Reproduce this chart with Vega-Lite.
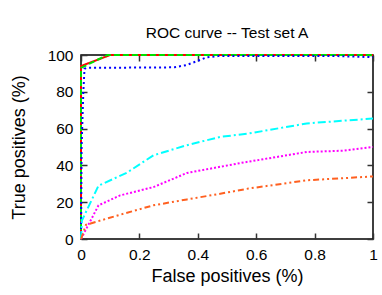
{
  "$schema": "https://vega.github.io/schema/vega-lite/v6.json",
  "autosize": "none",
  "width": 292,
  "height": 184,
  "padding": {"left": 81, "top": 55, "right": 9, "bottom": 56},
  "background": "white",
  "config": {
    "font": "Liberation Sans",
    "view": {"stroke": "black", "strokeWidth": 1.5},
    "axis": {"grid": false, "domain": false, "labelFlush": false, "tickColor": "#333", "tickWidth": 1.5, "labelColor": "black", "titleColor": "black", "labelFontSize": 15.5, "titleFontSize": 18, "titleFontWeight": "normal", "labelFont": "Liberation Sans", "titleFont": "Liberation Sans"}
  },
  "title": {"text": "ROC curve -- Test set A", "fontSize": 15.5, "fontWeight": "normal", "font": "Liberation Sans", "offset": 7, "color": "black"},
  "data": {"values": [
    {"s": "a", "x": 0, "y": 0}, {"s": "a", "x": 0, "y": 94}, {"s": "a", "x": 0.1, "y": 100}, {"s": "a", "x": 1, "y": 100},
    {"s": "b", "x": 0, "y": 0}, {"s": "b", "x": 0, "y": 93}, {"s": "b", "x": 0.09, "y": 100}, {"s": "b", "x": 1, "y": 100},
    {"s": "c", "x": 0, "y": 0}, {"s": "c", "x": 0.002, "y": 50}, {"s": "c", "x": 0.008, "y": 80}, {"s": "c", "x": 0.012, "y": 92.5}, {"s": "c", "x": 0.02, "y": 93}, {"s": "c", "x": 0.32, "y": 93.3}, {"s": "c", "x": 0.36, "y": 94.5}, {"s": "c", "x": 0.4, "y": 96.8}, {"s": "c", "x": 0.43, "y": 98.7}, {"s": "c", "x": 0.47, "y": 99.4}, {"s": "c", "x": 0.88, "y": 99.4}, {"s": "c", "x": 1, "y": 98.8},
    {"s": "d", "x": 0, "y": 0}, {"s": "d", "x": 0.06, "y": 18.3}, {"s": "d", "x": 0.134, "y": 23.7}, {"s": "d", "x": 0.248, "y": 28.2}, {"s": "d", "x": 0.363, "y": 35.9}, {"s": "d", "x": 0.55, "y": 41.4}, {"s": "d", "x": 0.773, "y": 47.3}, {"s": "d", "x": 0.9, "y": 48}, {"s": "d", "x": 1, "y": 50},
    {"s": "e", "x": 0, "y": 0}, {"s": "e", "x": 0.003, "y": 10}, {"s": "e", "x": 0.06, "y": 29}, {"s": "e", "x": 0.157, "y": 36}, {"s": "e", "x": 0.248, "y": 45.5}, {"s": "e", "x": 0.363, "y": 51}, {"s": "e", "x": 0.477, "y": 55.5}, {"s": "e", "x": 0.573, "y": 57.3}, {"s": "e", "x": 0.773, "y": 62.8}, {"s": "e", "x": 1, "y": 65.5},
    {"s": "f", "x": 0, "y": 0}, {"s": "f", "x": 0.017, "y": 7.7}, {"s": "f", "x": 0.134, "y": 13.2}, {"s": "f", "x": 0.248, "y": 18.3}, {"s": "f", "x": 0.363, "y": 21.5}, {"s": "f", "x": 0.477, "y": 24.6}, {"s": "f", "x": 0.573, "y": 27.4}, {"s": "f", "x": 0.773, "y": 31.9}, {"s": "f", "x": 1, "y": 34}
  ]},
  "layer": [
    {
      "mark": {"type": "line", "strokeWidth": 2, "clip": false},
      "encoding": {
        "x": {"field": "x", "type": "quantitative", "scale": {"domain": [0, 1], "nice": false, "zero": false},
          "axis": {"orient": "bottom", "title": "False positives (%)", "values": [0, 0.2, 0.4, 0.6, 0.8, 1], "labelExpr": "format(datum.value, '~g')", "tickSize": -6, "labelPadding": 14, "titlePadding": 5}},
        "y": {"field": "y", "type": "quantitative", "scale": {"domain": [0, 100], "nice": false},
          "axis": {"orient": "left", "title": "True positives (%)", "values": [0, 20, 40, 60, 80, 100], "tickSize": -6, "labelPadding": 14, "titlePadding": 19}},
        "color": {"field": "s", "type": "nominal", "legend": null,
          "scale": {"domain": ["a", "b", "c", "d", "e", "f"], "range": ["#ff0000", "#00e000", "#0000ff", "#ff00ff", "#00ffff", "#ff6020"]}},
        "strokeDash": {"field": "s", "type": "nominal", "legend": null,
          "scale": {"domain": ["a", "b", "c", "d", "e", "f"], "range": [[1, 0], [6, 3], [2, 3], [2, 2], [8, 3, 2, 3], [6, 3, 2, 3, 2, 3]]}},
        "order": {"field": "x", "type": "quantitative"}
      }
    },
    {
      "mark": {"type": "rule", "opacity": 0},
      "encoding": {
        "x": {"field": "x", "type": "quantitative", "axis": {"orient": "top", "title": null, "labels": false, "values": [0, 0.2, 0.4, 0.6, 0.8, 1], "tickSize": -6}},
        "y": {"field": "y", "type": "quantitative", "axis": {"orient": "right", "title": null, "labels": false, "values": [0, 20, 40, 60, 80, 100], "tickSize": -6}}
      }
    }
  ],
  "resolve": {"axis": {"x": "independent", "y": "independent"}}
}
